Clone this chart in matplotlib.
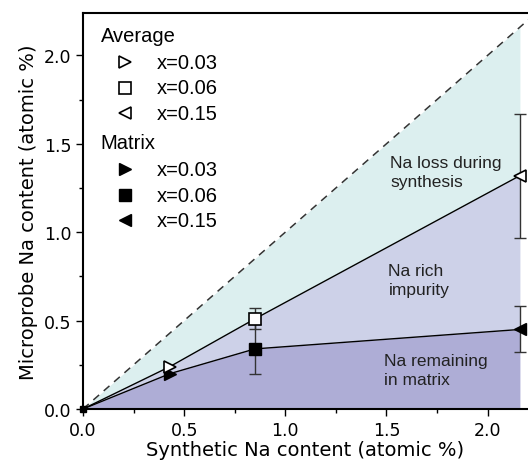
import matplotlib
matplotlib.use("Agg")
import matplotlib.pyplot as plt
import numpy as np

# Data
synthetic = [0.0, 0.43, 0.85, 2.16]
average = [0.0, 0.24, 0.51, 1.32]
average_err = [0.0, 0.0, 0.06, 0.35]
matrix = [0.0, 0.20, 0.34, 0.45]
matrix_err = [0.0, 0.0, 0.14, 0.13]
avg_markers = [">", "s", "<"]
mat_markers = [">", "s", "<"]
legend_labels = ["x=0.03", "x=0.06", "x=0.15"]
region_labels = ["Na loss during\nsynthesis", "Na rich\nimpurity", "Na remaining\nin matrix"]
region_pos = [(1.52, 1.34), (1.51, 0.73), (1.49, 0.22)]

c_top = "#dcefef"
c_mid = "#cdd1e8"
c_bot = "#aeadd6"

fig = plt.figure(figsize=(5.28, 4.64), dpi=100)
ax = fig.add_axes([83/528, 54/464, 445/528, 396/464])

xs = np.array(synthetic)
ax.fill_between(xs, average, xs, color=c_top, lw=0, zorder=0)
ax.fill_between(xs, matrix, average, color=c_mid, lw=0, zorder=0)
ax.fill_between(xs, 0, matrix, color=c_bot, lw=0, zorder=0)

ax.plot([0, 2.3], [0, 2.3], ls=(0, (5, 4)), color="#333333", lw=1.1, zorder=1)
ax.plot(synthetic, average, color="black", lw=1.0, zorder=2)
ax.plot(synthetic, matrix, color="black", lw=1.0, zorder=2)

for i in range(1, 4):
    if average_err[i] > 0:
        ax.errorbar(synthetic[i], average[i], yerr=average_err[i], fmt="none",
                    ecolor="#333333", elinewidth=1.0, capsize=4, zorder=3)
    if matrix_err[i] > 0:
        ax.errorbar(synthetic[i], matrix[i], yerr=matrix_err[i], fmt="none",
                    ecolor="#333333", elinewidth=1.0, capsize=4, zorder=3)
    ax.plot(synthetic[i], matrix[i], marker=mat_markers[i-1], color="black",
            ms=9, mfc="black", mec="black", ls="none", zorder=4)
    ax.plot(synthetic[i], average[i], marker=avg_markers[i-1], color="black",
            ms=9, mfc="white", mec="black", mew=1.2, ls="none", zorder=5)
ax.plot(0, 0, marker="s", color="black", ms=5, zorder=5, clip_on=False)

for (x, y), t in zip(region_pos, region_labels):
    ax.text(x, y, t, fontsize=12.5, family="Liberation Sans", color="#222222",
            va="center", ha="left", linespacing=1.35)

# legend (manual, in axes coordinates)
lf = dict(fontsize=14.5, family="Liberation Sans", transform=ax.transAxes, va="center")
ax.text(0.04, 0.942, "Average", **lf)
ys_avg = [0.876, 0.811, 0.747]
ys_mat = [0.606, 0.540, 0.477]
ax.text(0.04, 0.674, "Matrix", **lf)
for j in range(3):
    ax.plot(0.095, ys_avg[j], marker=avg_markers[j], ms=8, mfc="white", mec="black",
            mew=1.2, transform=ax.transAxes, ls="none")
    ax.text(0.165, ys_avg[j], legend_labels[j], **lf)
    ax.plot(0.095, ys_mat[j], marker=mat_markers[j], ms=8, color="black",
            transform=ax.transAxes, ls="none")
    ax.text(0.165, ys_mat[j], legend_labels[j], **lf)

ax.set_xlim(0, 2.2)
ax.set_ylim(0, 2.24)
ax.set_xticks([0, 0.5, 1.0, 1.5, 2.0])
ax.set_xticklabels(["0.0", "0.5", "1.0", "1.5", "2.0"])
ax.set_yticks([0, 0.5, 1.0, 1.5, 2.0])
ax.set_yticklabels(["0.0", "0.5", "1.0", "1.5", "2.0"])
ax.set_xticks([0.25, 0.75, 1.25, 1.75], minor=True)
ax.set_yticks([0.25, 0.75, 1.25, 1.75], minor=True)
ax.tick_params(which="both", direction="out", labelsize=12.5, width=1.0)
ax.tick_params(which="major", length=5)
ax.tick_params(which="minor", length=3)
ax.spines["right"].set_visible(False)
ax.spines["top"].set_linewidth(1.5)
ax.spines["left"].set_linewidth(1.5)
ax.spines["bottom"].set_linewidth(1.5)
ax.set_xlabel("Synthetic Na content (atomic %)", fontsize=14, labelpad=1)
ax.set_ylabel("Microprobe Na content (atomic %)", fontsize=14, labelpad=4)

fig.savefig("out.png", dpi=100)
